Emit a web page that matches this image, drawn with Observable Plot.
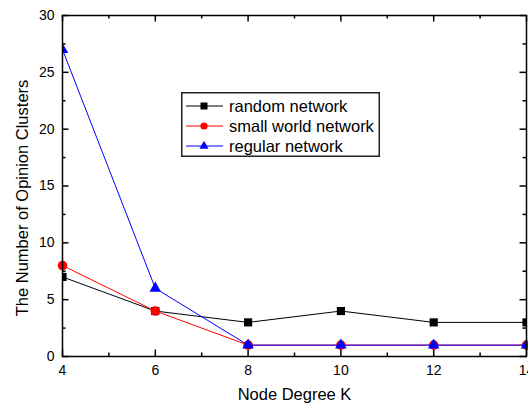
<!DOCTYPE html>
<html><head><meta charset="utf-8">
<script src="https://cdn.jsdelivr.net/npm/d3@7"></script>
<script src="https://cdn.jsdelivr.net/npm/@observablehq/plot@0.6"></script>
<style>
body{margin:0;background:#fff;font-family:"Liberation Sans",Arial,sans-serif}
#chart{position:relative;width:528px;height:405px}
#legend{position:absolute;left:181px;top:92px}
</style>
</head><body><div id="chart"></div>
<script>
const degrees = [4, 6, 8, 10, 12, 14];
const randomNet = [7, 4, 3, 4, 3, 3];
const smallWorld = [8, 4, 1, 1, 1, 1];
const regularNet = [27, 6, 1, 1, 1, 1];
const seriesNames = ["random network", "small world network", "regular network"];
const seriesColors = ["#000000", "#ff0000", "#0000ff"];
const seriesSymbols = ["square", "circle", "triangle"];
const xMajor = [4, 6, 8, 10, 12, 14];
const xMinor = [5, 7, 9, 11, 13];
const yMajor = [0, 5, 10, 15, 20, 25, 30];
const yMinor = [2.5, 7.5, 12.5, 17.5, 22.5, 27.5];
const xTitle = "Node Degree K";
const yTitle = "The Number of Opinion Clusters";

const seriesValues = [randomNet, smallWorld, regularNet];
const rows = seriesValues.map((vals, i) => degrees.map((k, j) => ({k, value: vals[j], series: seriesNames[i]})));

const W = 528, H = 405, mL = 62, mR = 2, mT = 15, mB = 49;
const pW = W - mL - mR, pH = H - mT - mB;
const majLen = 6.5, minLen = 3.5;

const symR = [4.6, 4.8, 4.3];
const marks = [];
rows.forEach((data, i) => {
  marks.push(Plot.line(data, {x: "k", y: "value", stroke: seriesColors[i], strokeWidth: 1}));
  marks.push(Plot.dot(data, {x: "k", y: "value", symbol: seriesSymbols[i], fill: seriesColors[i], stroke: "none", r: symR[i], clip: i === 1 ? null : "frame"}));
});

const tickStyle = {stroke: "black", strokeWidth: 1.5};
const plot = Plot.plot({
  width: W, height: H,
  marginLeft: mL, marginRight: mR, marginTop: mT, marginBottom: mB,
  style: {fontFamily: "'Liberation Sans', Arial, sans-serif", fontSize: "14px", color: "black", background: "white"},
  x: {domain: [4, 14], ticks: xMajor, tickSize: 0, tickPadding: 9, label: null, tickFormat: d => String(d)},
  y: {domain: [0, 30], ticks: yMajor, tickSize: 0, tickPadding: 8, label: null, tickFormat: d => String(d)},
  marks: [
    Plot.tickX(xMajor, {x: d => d, insetTop: pH - majLen, ...tickStyle}),
    Plot.tickX(xMinor, {x: d => d, insetTop: pH - minLen, ...tickStyle}),
    Plot.tickX(xMajor, {x: d => d, insetBottom: pH - majLen, ...tickStyle}),
    Plot.tickX(xMinor, {x: d => d, insetBottom: pH - minLen, ...tickStyle}),
    Plot.tickY(yMajor, {y: d => d, insetRight: pW - majLen, ...tickStyle}),
    Plot.tickY(yMinor, {y: d => d, insetRight: pW - minLen, ...tickStyle}),
    Plot.tickY(yMajor, {y: d => d, insetLeft: pW - majLen, ...tickStyle}),
    Plot.tickY(yMinor, {y: d => d, insetLeft: pW - minLen, ...tickStyle}),
    ...marks,
    Plot.frame({stroke: "black", strokeWidth: 1.5}),
    Plot.text([yTitle], {frameAnchor: "left", rotate: -90, dx: -40, dy: 12, textAnchor: "middle", lineAnchor: "middle", fontSize: 16.5, fill: "black"}),
    Plot.text([xTitle], {frameAnchor: "bottom", dy: 43, lineAnchor: "bottom", fontSize: 16.5, fill: "black"})
  ]
});
const chart = document.getElementById("chart");
chart.appendChild(plot);

// legend
const lg = d3.select(chart).append("svg").attr("id", "legend").attr("width", 200).attr("height", 66);
lg.append("rect").attr("x", 0.75).attr("y", 0.75).attr("width", 197.5).attr("height", 63.5)
  .attr("fill", "white").attr("stroke", "#222").attr("stroke-width", 1.5);
const symMap = {square: d3.symbolSquare, circle: d3.symbolCircle, triangle: d3.symbolTriangle};
const legSize = [49, 40, 36];
seriesNames.forEach((name, i) => {
  const g = lg.append("g").attr("transform", `translate(0,${14 + i * 20})`);
  g.append("line").attr("x1", 5).attr("x2", 42).attr("stroke", seriesColors[i]).attr("stroke-width", 1);
  g.append("path").attr("d", d3.symbol(symMap[seriesSymbols[i]], legSize[i])()).attr("transform", "translate(23,0)").attr("fill", seriesColors[i]);
  g.append("text").attr("x", 48).attr("y", 0).attr("dy", "0.35em").attr("font-size", 16.5).attr("fill", "black")
    .style("font-family", "'Liberation Sans', Arial, sans-serif").text(name);
});
</script>
</body></html>
